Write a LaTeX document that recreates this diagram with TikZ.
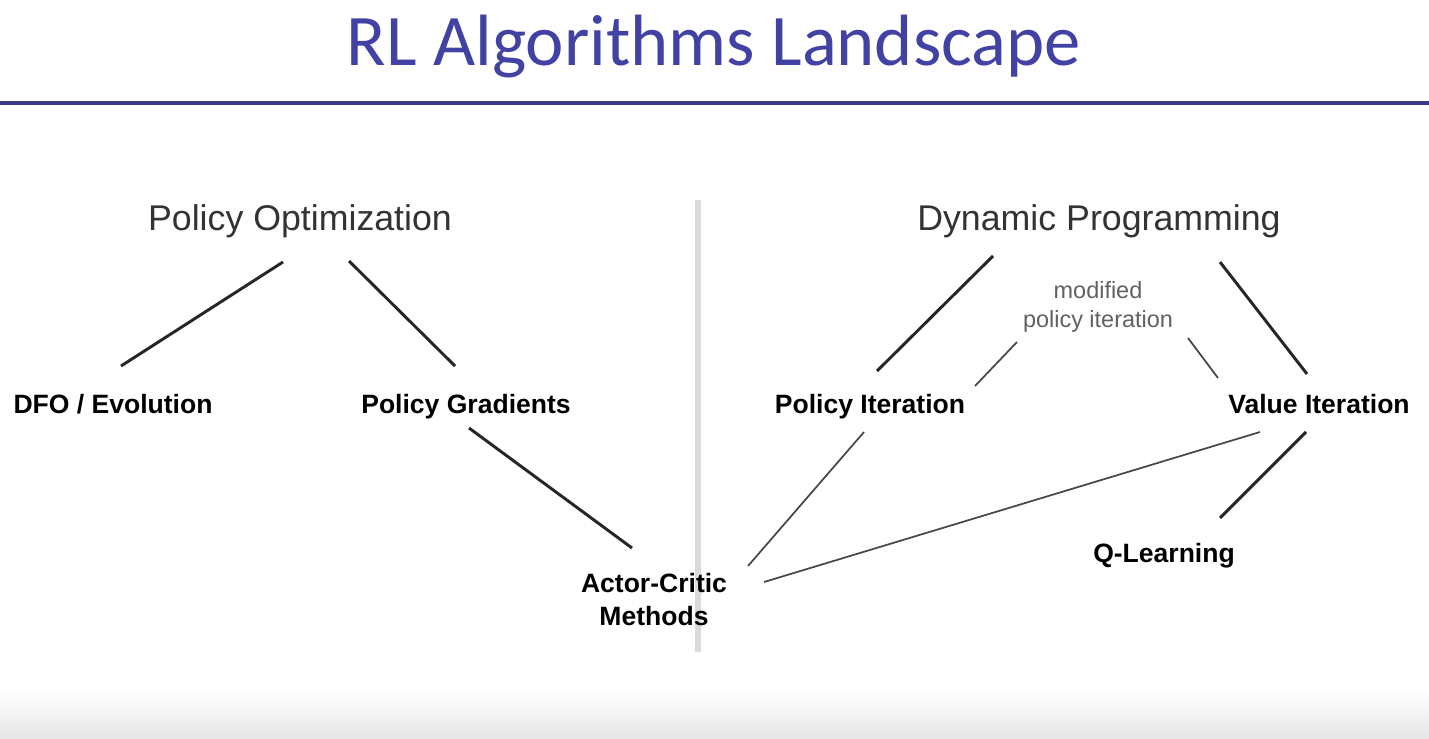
\documentclass[tikz,border=0pt]{standalone}
\usepackage{fontspec}
\setmainfont{Liberation Sans}
\newfontfamily\titlefont{Carlito}
\usetikzlibrary{calc, positioning}
\definecolor{titleblue}{RGB}{66,66,165}
\definecolor{rulenavy}{RGB}{58,58,140}
\definecolor{divgray}{RGB}{218,218,222}

\begin{document}
\begin{tikzpicture}[x=0.75pt, y=-0.75pt,
    head/.style={anchor=base, text=black!80, font=\fontsize{26.8}{30}\selectfont},
    algo/.style={anchor=base, font=\bfseries\fontsize{19.9}{24.75}\selectfont},
    note/.style={align=center, text=black!62, font=\fontsize{17.6}{21.75}\selectfont},
    link/.style={line width=2.2pt, black!85},
    thinlink/.style={line width=1.3pt, black!72}]
    \useasboundingbox (0,0) rectangle (1429,739);
    \fill[white] (0,0) rectangle (1429,739);
    \shade[top color=white, bottom color=black!10] (0,690) rectangle (1429,739);

    % title and rule
    \node[anchor=base, text=titleblue, font=\titlefont\fontsize{54.5}{60}\selectfont] (title) at (714,65) {RL Algorithms Landscape};
    \draw[rulenavy, line width=3pt] (0,103) -- (1429,103);

    % divider
    \draw[divgray, line width=4.5pt] (698,200) -- (698,652);

    % families
    \node[head] (po) at (300,230) {Policy Optimization};
    \node[head] (dp) at (1099,230) {Dynamic Programming};

    % algorithms
    \node[algo] (dfo) at (113,413) {DFO / Evolution};
    \node[algo] (pg) at (466,413) {Policy Gradients};
    \node[algo] (pi) at (870,413) {Policy Iteration};
    \node[algo] (vi) at (1319,413) {Value Iteration};
    \node[algo] (ql) at (1164,562) {Q-Learning};
    \node[align=center, font=\bfseries\fontsize{19.9}{24.75}\selectfont] (ac) at (654,600) {Actor-Critic\\Methods};
    \node[note] (mpi) at (1098,307) {modified\\policy iteration};

    % links
    \draw[link] ($(po.base)+(-17,32)$) -- ($(dfo.base)+(8,-47)$);
    \draw[link] ($(po.base)+(49,31)$) -- ($(pg.base)+(-11,-47)$);
    \draw[link] ($(pg.base)+(3,15)$) -- ($(ac.center)+(-22,-52)$);
    \draw[link] ($(dp.base)+(-106,26)$) -- ($(pi.base)+(7,-42)$);
    \draw[link] ($(dp.base)+(121,32)$) -- ($(vi.base)+(-12,-39)$);
    \draw[link] ($(vi.base)+(-13,19)$) -- ($(ql.base)+(56,-44)$);
    \draw[thinlink] ($(mpi.center)+(-81,35)$) -- ($(pi.base)+(105,-27)$);
    \draw[thinlink] ($(mpi.center)+(90,31)$) -- ($(vi.base)+(-101,-35)$);
    \draw[thinlink] ($(pi.base)+(-6,19)$) -- ($(ac.center)+(94,-34)$);
    \draw[thinlink] ($(vi.base)+(-59,19)$) -- ($(ac.center)+(110,-18)$);
\end{tikzpicture}
\end{document}
